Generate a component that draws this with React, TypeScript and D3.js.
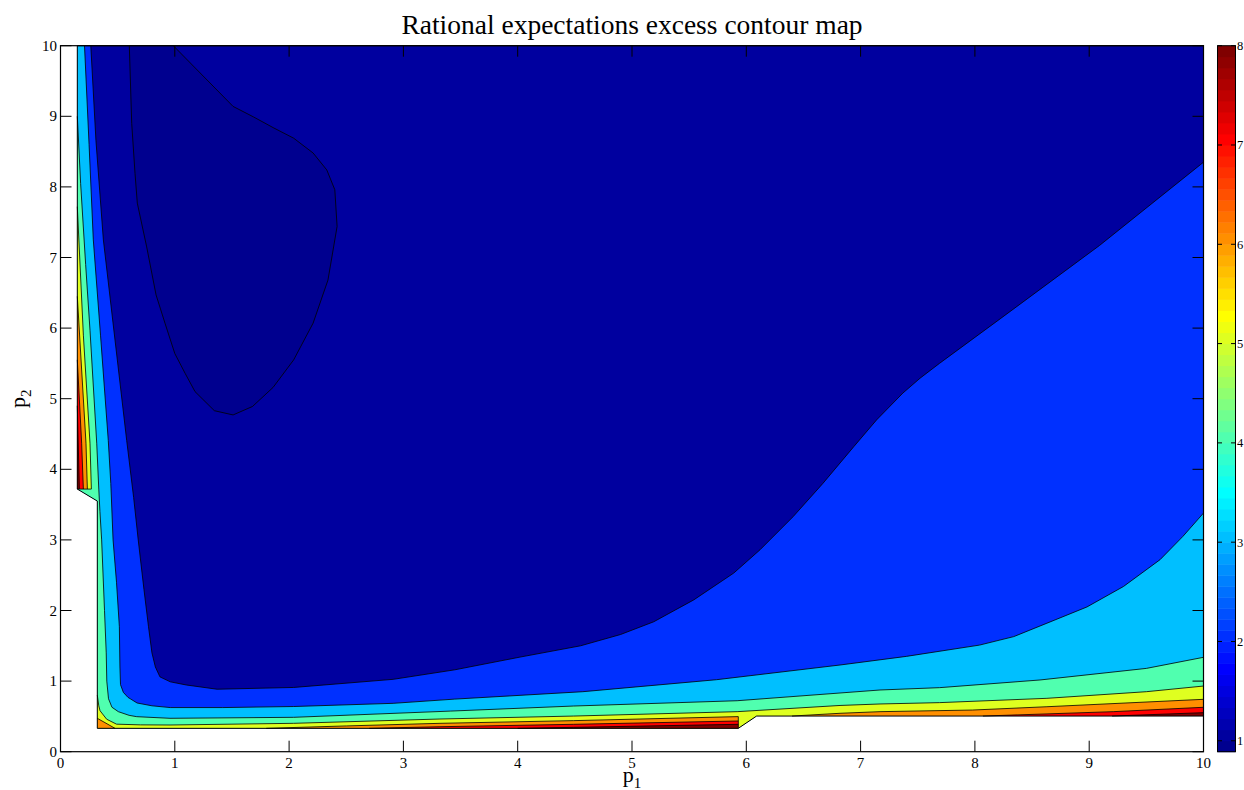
import React from 'react';
import * as d3 from 'd3';

type Pt = [number, number];

// ---- axis ticks ----
const xTicks = [0, 1, 2, 3, 4, 5, 6, 7, 8, 9, 10];
const yTicks = [0, 1, 2, 3, 4, 5, 6, 7, 8, 9, 10];
const cbTicks = [1, 2, 3, 4, 5, 6, 7, 8];
const cbMin = 0.89;
const cbMax = 8;

// ---- region where the excess was computed (p1, p2) ----
const fieldEdge: Pt[] = [
  [0.147, 10], [10, 10], [10, 0.505], [6.09, 0.505], [5.93, 0.331],
  [0.322, 0.331], [0.322, 3.55], [0.147, 3.72],
];

// ---- contour lines; values rise toward the lower-left edges ----
// lowest basin (closed along the top edge)
const basinLine: Pt[] = [
  [0.602, 10], [0.623, 8.9], [0.652, 8.19], [0.672, 7.77], [0.754, 7.15], [0.836, 6.47],
  [0.914, 6.07], [1.0, 5.64], [1.09, 5.36], [1.177, 5.1], [1.346, 4.83], [1.51, 4.77],
  [1.68, 4.89], [1.86, 5.16], [2.04, 5.55], [2.21, 6.07], [2.34, 6.68], [2.42, 7.44],
  [2.4, 7.96], [2.33, 8.24], [2.21, 8.48], [2.04, 8.69], [1.86, 8.84], [1.69, 8.99],
  [1.51, 9.14], [0.987, 10],
];

const level2Line: Pt[] = [
  [0.265, 10], [0.31, 8.66], [0.375, 7.25], [0.477, 5.83], [0.579, 4.41], [0.64, 3.6],
  [0.68, 3.0], [0.73, 2.3], [0.77, 1.77], [0.8, 1.4], [0.83, 1.2], [0.87, 1.06],
  [0.96, 0.99], [1.1, 0.945], [1.37, 0.885], [2.04, 0.91], [2.91, 1.025], [3.45, 1.16],
  [4.02, 1.34], [4.55, 1.5], [4.9, 1.66], [5.19, 1.84], [5.54, 2.15], [5.89, 2.53],
  [6.12, 2.86], [6.41, 3.33], [6.67, 3.8], [6.94, 4.32], [7.14, 4.7], [7.37, 5.08],
  [7.52, 5.29], [7.69, 5.5], [8.22, 6.13], [9.09, 7.17], [10, 8.35],
];

const level3Line: Pt[] = [
  [0.21, 10], [0.25, 8.6], [0.287, 7.25], [0.35, 5.9], [0.418, 4.41], [0.44, 3.8],
  [0.46, 3.0], [0.49, 2.4], [0.515, 1.77], [0.52, 1.2], [0.525, 0.95], [0.55, 0.84],
  [0.59, 0.77], [0.67, 0.69], [0.8, 0.65], [0.96, 0.625], [1.42, 0.625], [2.04, 0.64],
  [2.91, 0.685], [3.45, 0.745], [4.57, 0.85], [5.74, 1.02], [6.82, 1.228], [7.4, 1.35],
  [8.04, 1.51], [8.34, 1.63], [8.63, 1.82], [8.98, 2.05], [9.3, 2.34], [9.62, 2.72],
  [9.82, 3.05], [10, 3.38],
];

const level4Line: Pt[] = [
  [0.147, 9.0], [0.176, 8.05], [0.22, 6.9], [0.258, 5.97], [0.317, 4.37], [0.335, 3.72],
  [0.345, 3.4], [0.36, 3.0], [0.385, 2.0], [0.4, 1.4], [0.405, 1.0], [0.42, 0.75],
  [0.45, 0.63], [0.506, 0.567], [0.6, 0.515], [0.667, 0.496], [0.958, 0.473], [2.04, 0.487],
  [3.41, 0.575], [4.49, 0.647], [5.92, 0.722], [7.17, 0.874], [7.69, 0.907], [8.57, 1.016],
  [9.5, 1.18], [10, 1.337],
];

// left strip (p2 above the step)
const level5Strip: Pt[] = [[0.147, 7.72], [0.2, 5.9], [0.258, 4.37], [0.27, 3.72]];
const level6Strip: Pt[] = [[0.147, 6.45], [0.223, 4.37], [0.235, 3.72]];
const level7Strip: Pt[] = [[0.147, 5.55], [0.185, 4.37], [0.2, 3.72]];
const level8Strip: Pt[] = [[0.147, 4.9], [0.165, 3.72]];

// bottom bands
const level5Bottom: Pt[] = [
  [0.322, 0.8], [0.335, 0.65], [0.346, 0.58], [0.404, 0.46], [0.49, 0.39], [0.7, 0.38],
  [0.958, 0.378], [2.04, 0.402], [3.32, 0.463], [4.49, 0.505], [5.92, 0.567],
  [6.82, 0.655], [7.17, 0.676], [7.69, 0.695], [8.63, 0.756], [9.5, 0.85], [10, 0.93],
];
const level6Corner: Pt[] = [[0.322, 0.473], [0.477, 0.331]];
const level6Bottom: Pt[] = [[1.8, 0.331], [2.5, 0.365], [3.32, 0.402], [4.49, 0.44], [5.93, 0.497]];
const level6Right: Pt[] = [[6.4, 0.505], [6.82, 0.544], [7.17, 0.567], [7.98, 0.59], [8.63, 0.637], [10, 0.742]];
const level7Bottom: Pt[] = [[2.7, 0.331], [3.32, 0.354], [4.49, 0.388], [5.93, 0.435]];
const level7Right: Pt[] = [[8.07, 0.505], [9.21, 0.567], [10, 0.629]];
const level8Bottom: Pt[] = [[4.0, 0.331], [4.49, 0.345], [5.93, 0.388]];
const level8Right: Pt[] = [[9.2, 0.505], [10, 0.553]];

// ---- MATLAB-style jet colormap, 64 rows ----
function jetRow(k: number): string {
  const r = k <= 24 ? 0 : k <= 40 ? 0.0625 * (k - 24) : k <= 56 ? 1 : 1 - 0.0625 * (k - 56);
  const g = k <= 8 ? 0 : k <= 24 ? 0.0625 * (k - 8) : k <= 40 ? 1 : k <= 56 ? 1 - 0.0625 * (k - 40) : 0;
  const b = k <= 8 ? 0.5 + 0.0625 * k : k <= 24 ? 1 : k <= 40 ? 1 - 0.0625 * (k - 24) : 0;
  return d3.rgb(r * 255, g * 255, b * 255).formatHex();
}
// colormap row used by each filled band (basin, 1, 2, ..., 8)
const bandRows = [1, 2, 11, 20, 29, 38, 47, 56, 64];
const bandColor = bandRows.map(jetRow);

const FONT = '"Liberation Serif", "Times New Roman", Times, serif';

export default function App() {
  const W = 1244;
  const H = 790;
  const x = d3.scaleLinear().domain([0, 10]).range([60.5, 1203.5]);
  const y = d3.scaleLinear().domain([0, 10]).range([751.7, 45.7]);
  const cbY = d3.scaleLinear().domain([cbMin, cbMax]).range([751.7, 45.7]);
  const cbX0 = 1217.5;
  const cbX1 = 1235.5;

  const line = d3.line<Pt>().x((d) => x(d[0])).y((d) => y(d[1]));
  const poly = (pts: Pt[]) => line(pts) + 'Z';

  const first = (c: Pt[]) => c[0];
  const last = (c: Pt[]) => c[c.length - 1];
  // region below-left of a line running from the top edge to the right edge
  const lowerLeft = (c: Pt[]): Pt[] => [
    ...c, [11, last(c)[1]], [11, -1], [-1, -1], [-1, 11], [first(c)[0], 11],
  ];
  // region below a line running from the left edge to the right edge
  const belowFromLeft = (c: Pt[]): Pt[] => [
    ...c, [11, last(c)[1]], [11, -1], [-1, -1], [-1, first(c)[1]],
  ];
  // strip hugging the left edge, above the step
  const leftStrip = (c: Pt[]): Pt[] => [[-1, first(c)[1]], ...c, [-1, last(c)[1]]];
  // band resting on the bottom edge, ending at a vertical cut
  const bottomBand = (c: Pt[]): Pt[] => [[first(c)[0], -1], ...c, [last(c)[0], -1]];
  // band resting on the bottom edge, ending at the right edge
  const bottomRight = (c: Pt[]): Pt[] => [[first(c)[0], 0], ...c, [11, last(c)[1]], [11, 0]];
  const cornerBand = (c: Pt[]): Pt[] => [[-1, first(c)[1]], ...c, [last(c)[0], -1], [-1, -1]];

  const basinPoly: Pt[] = [...basinLine, [0.987, 11], [0.602, 11]];

  const fills: { d: string; color: string }[] = [
    { d: poly(fieldEdge), color: bandColor[1] },
    { d: poly(basinPoly), color: bandColor[0] },
    { d: poly(lowerLeft(level2Line)), color: bandColor[2] },
    { d: poly(lowerLeft(level3Line)), color: bandColor[3] },
    { d: poly(lowerLeft(level4Line)), color: bandColor[4] },
    { d: poly(leftStrip(level5Strip)), color: bandColor[5] },
    { d: poly(belowFromLeft(level5Bottom)), color: bandColor[5] },
    { d: poly(leftStrip(level6Strip)), color: bandColor[6] },
    { d: poly(cornerBand(level6Corner)), color: bandColor[6] },
    { d: poly(bottomBand(level6Bottom)), color: bandColor[6] },
    { d: poly(bottomRight(level6Right)), color: bandColor[6] },
    { d: poly(leftStrip(level7Strip)), color: bandColor[7] },
    { d: poly(bottomBand(level7Bottom)), color: bandColor[7] },
    { d: poly(bottomRight(level7Right)), color: bandColor[7] },
    { d: poly(leftStrip(level8Strip)), color: bandColor[8] },
    { d: poly(bottomBand(level8Bottom)), color: bandColor[8] },
    { d: poly(bottomRight(level8Right)), color: bandColor[8] },
  ];

  const contourLines: Pt[][] = [
    basinLine, level2Line, level3Line, level4Line,
    level5Strip, level6Strip, level7Strip, level8Strip,
    level5Bottom, level6Corner, level6Bottom, level6Right,
    level7Bottom, level7Right, level8Bottom, level8Right,
    [[0.147, 3.72], [last(level5Strip)[0], 3.72]],
    [[5.93, 0.331], [5.93, last(level6Bottom)[1]]],
  ];

  const tickLen = 11;
  const cbStep = (cbMax - cbMin) / 64;

  return (
    <svg
      width={W}
      height={H}
      viewBox={`0 0 ${W} ${H}`}
      style={{ position: 'absolute', left: 0, top: 0, background: '#fff' }}
      fontFamily={FONT}
    >
      <defs>
        <clipPath id="field">
          <path d={poly(fieldEdge)} />
        </clipPath>
      </defs>
      <rect x={0} y={0} width={W} height={H} fill="#fff" />

      <g clipPath="url(#field)">
        {fills.map((f, i) => (
          <path key={i} d={f.d} fill={f.color} stroke="none" />
        ))}
      </g>

      <g fill="none" stroke="#000" strokeWidth={0.8} strokeLinejoin="round">
        {contourLines.map((c, i) => (
          <path key={i} d={line(c) || ''} />
        ))}
        <path d={poly(fieldEdge)} strokeWidth={1} />
      </g>

      {/* axes box */}
      <rect x={x(0)} y={y(10)} width={x(10) - x(0)} height={y(0) - y(10)} fill="none" stroke="#000" strokeWidth={1.2} />

      {/* inward ticks on all four sides */}
      <g stroke="#000" strokeWidth={1}>
        {xTicks.map((t) => (
          <g key={'x' + t}>
            <line x1={x(t)} x2={x(t)} y1={y(0)} y2={y(0) - tickLen} />
            <line x1={x(t)} x2={x(t)} y1={y(10)} y2={y(10) + tickLen} />
          </g>
        ))}
        {yTicks.map((t) => (
          <g key={'y' + t}>
            <line x1={x(0)} x2={x(0) + tickLen} y1={y(t)} y2={y(t)} />
            <line x1={x(10)} x2={x(10) - tickLen} y1={y(t)} y2={y(t)} />
          </g>
        ))}
      </g>

      <g fontSize={15} fill="#000">
        {xTicks.map((t) => (
          <text key={'xl' + t} x={x(t)} y={768} textAnchor="middle">{t}</text>
        ))}
        {yTicks.map((t) => (
          <text key={'yl' + t} x={57} y={y(t) + 5} textAnchor="end">{t}</text>
        ))}
      </g>

      {/* axis titles */}
      <text x={(x(0) + x(10)) / 2} y={782} textAnchor="middle" fontSize={22}>
        p<tspan fontSize={15} dy={6}>1</tspan>
      </text>
      <text transform={`translate(25,${(y(0) + y(10)) / 2}) rotate(-90)`} textAnchor="middle" fontSize={22}>
        p<tspan fontSize={15} dy={6}>2</tspan>
      </text>

      <text x={(x(0) + x(10)) / 2} y={34} textAnchor="middle" fontSize={27.5}>
        Rational expectations excess contour map
      </text>

      {/* colour bar */}
      <g>
        {d3.range(64).map((k) => {
          const v0 = cbMin + k * cbStep;
          const v1 = v0 + cbStep;
          return (
            <rect
              key={'cb' + k}
              x={cbX0}
              y={cbY(v1)}
              width={cbX1 - cbX0}
              height={cbY(v0) - cbY(v1) + 0.5}
              fill={jetRow(k + 1)}
            />
          );
        })}
        <rect x={cbX0} y={cbY(cbMax)} width={cbX1 - cbX0} height={cbY(cbMin) - cbY(cbMax)} fill="none" stroke="#000" strokeWidth={1} />
        <g stroke="#000" strokeWidth={1}>
          {cbTicks.map((t) => (
            <g key={'cbt' + t}>
              <line x1={cbX0} x2={cbX0 + 4.5} y1={cbY(t)} y2={cbY(t)} />
              <line x1={cbX1} x2={cbX1 - 4.5} y1={cbY(t)} y2={cbY(t)} />
            </g>
          ))}
        </g>
        <g fontSize={12.5} fill="#000">
          {cbTicks.map((t) => (
            <text key={'cbl' + t} x={1237} y={cbY(t) + 4.5} textAnchor="start">{t}</text>
          ))}
        </g>
      </g>
    </svg>
  );
}
